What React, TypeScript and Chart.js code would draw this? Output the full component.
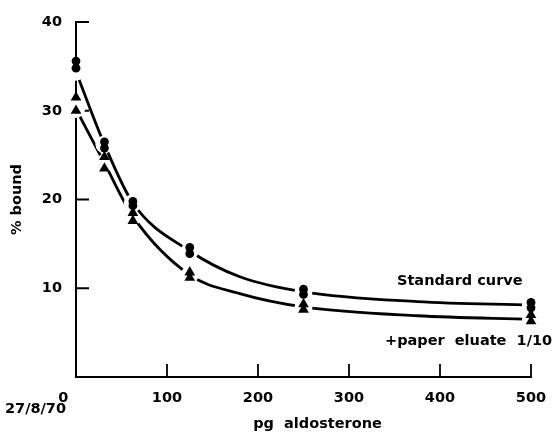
import React, { useEffect, useRef } from "react";
import { Chart, registerables } from "chart.js";

Chart.register(...registerables);

// doses (pg aldosterone)
const doses = [0, 31.25, 62.5, 125, 250, 500];
// replicate readings, % bound
const standardA = [35.6, 26.5, 19.8, 14.6, 9.9, 8.4];
const standardB = [34.8, 25.8, 19.3, 13.9, 9.3, 7.8];
const eluateA = [31.5, 24.8, 18.5, 11.8, 8.2, 7.0];
const eluateB = [30.0, 23.5, 17.6, 11.2, 7.6, 6.3];

// hand-drawn fitted curves
const curveX = [0, 31.25, 62.5, 125, 180, 250, 375, 500];
const standardCurve = [34.4, 26.2, 19.6, 14.2, 11.3, 9.6, 8.5, 8.1];
const eluateCurve = [30.2, 24.1, 18.1, 11.5, 9.4, 7.9, 6.9, 6.5];
const curveMarked = [true, true, true, true, false, true, false, true];

const xTicks = [0, 100, 200, 300, 400, 500];
const yTicks = [10, 20, 30, 40];

const FONT = "'DejaVu Sans', sans-serif";
const FSIZE = 14.5;

export default function App() {
  const ref = useRef<HTMLCanvasElement | null>(null);

  useEffect(() => {
    if (!ref.current) return;
    const pairs = (xs: number[], ys: number[]) => xs.map((x, i) => ({ x, y: ys[i] }));
    const both = (a: number[], b: number[]) => [...pairs(doses, a), ...pairs(doses, b)];
    const haloRadius = curveMarked.map((m) => (m ? 9 : 0));
    const font = { family: FONT, size: FSIZE, weight: "bold" as const };

    const innerTicks = {
      id: "innerTicks",
      beforeDatasetsDraw(chart: any) {
        const { ctx, chartArea, scales } = chart;
        ctx.save();
        ctx.strokeStyle = "#000";
        ctx.lineWidth = 1.8;
        ctx.beginPath();
        for (const v of yTicks) {
          const y = scales.y.getPixelForValue(v);
          ctx.moveTo(chartArea.left, y);
          ctx.lineTo(chartArea.left + 13, y);
        }
        for (const v of xTicks) {
          if (v === 0) continue;
          const x = scales.x.getPixelForValue(v);
          ctx.moveTo(x, chartArea.bottom);
          ctx.lineTo(x, chartArea.bottom - 13);
        }
        ctx.stroke();
        ctx.restore();
      },
    };

    const notes = {
      id: "notes",
      afterDraw(chart: any) {
        const { ctx, chartArea } = chart;
        ctx.save();
        ctx.fillStyle = "#000";
        ctx.font = `bold ${FSIZE}px ${FONT}`;
        ctx.textBaseline = "middle";
        ctx.textAlign = "left";
        ctx.fillText("Standard curve", 397, 281);
        ctx.fillText("+paper  eluate  1/10", 385, 341);
        ctx.fillText("27/8/70", 5, 409);
        ctx.textAlign = "center";
        ctx.fillText("pg  aldosterone", (chartArea.left + chartArea.right) / 2 + 14, 424);
        ctx.restore();
      },
    };

    const chart = new Chart(ref.current, {
      type: "scatter",
      data: {
        datasets: [
          {
            label: "Standard curve",
            data: both(standardA, standardB),
            pointStyle: "circle",
            pointRadius: 4.4,
            backgroundColor: "#000",
            borderColor: "#000",
            borderWidth: 0,
            clip: false,
          } as any,
          {
            label: "+paper eluate 1/10",
            data: both(eluateA, eluateB),
            pointStyle: "triangle",
            pointRadius: 6.2,
            backgroundColor: "#000",
            borderColor: "#000",
            borderWidth: 0,
            clip: false,
          },
          {
            label: "standard fit",
            data: pairs(curveX, standardCurve),
            showLine: true,
            cubicInterpolationMode: "monotone",
            borderColor: "#000",
            borderWidth: 2.8,
            pointRadius: haloRadius,
            pointBackgroundColor: "#fff",
            pointBorderWidth: 0,
            clip: false,
          },
          {
            label: "eluate fit",
            data: pairs(curveX, eluateCurve),
            showLine: true,
            cubicInterpolationMode: "monotone",
            borderColor: "#000",
            borderWidth: 2.8,
            pointRadius: haloRadius,
            pointBackgroundColor: "#fff",
            pointBorderWidth: 0,
            clip: false,
          },
        ],
      },
      options: {
        responsive: false,
        animation: false,
        devicePixelRatio: 1,
        layout: { padding: { left: 0, right: 24, top: 22, bottom: 0 } },
        plugins: {
          legend: { display: false },
          tooltip: { enabled: false },
        },
        scales: {
          x: {
            type: "linear",
            min: 0,
            max: 500,
            afterFit: (s: any) => {
              s.height = 63;
            },
            afterBuildTicks: (s: any) => {
              s.ticks = xTicks.map((v) => ({ value: v }));
            },
            grid: { display: false },
            border: { display: true, color: "#000", width: 2 },
            ticks: {
              color: "#000",
              padding: 5,
              maxRotation: 0,
              font,
              callback: (v: any) => (Number(v) === 0 ? "0     " : String(v)),
            },
          },
          y: {
            type: "linear",
            min: 0,
            max: 40,
            afterFit: (s: any) => {
              s.width = 76;
            },
            afterBuildTicks: (s: any) => {
              s.ticks = yTicks.map((v) => ({ value: v }));
            },
            grid: { display: false },
            border: { display: true, color: "#000", width: 2 },
            ticks: {
              color: "#000",
              padding: 6,
              font,
            },
            title: {
              display: true,
              text: "% bound",
              color: "#000",
              font,
              padding: { top: 9, bottom: 0 },
            },
          },
        },
      },
      plugins: [innerTicks, notes],
    });
    return () => chart.destroy();
  }, []);

  return (
    <div style={{ position: "absolute", left: 0, top: 0, width: 555, height: 440, background: "#fff" }}>
      <canvas ref={ref} width={555} height={440} />
    </div>
  );
}
